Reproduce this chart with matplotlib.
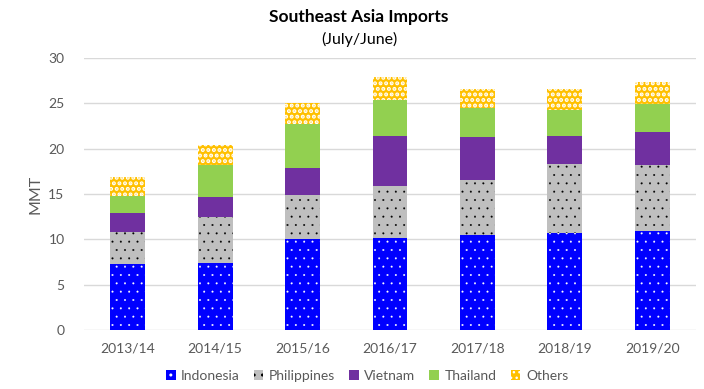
import matplotlib
matplotlib.use('Agg')
import matplotlib.pyplot as plt
import numpy as np

years = ["2013/14", "2014/15", "2015/16", "2016/17", "2017/18", "2018/19", "2019/20"]
indonesia   = [7.3, 7.4, 10.0, 10.1, 10.5, 10.7, 10.9]
philippines = [3.5, 5.1, 4.9, 5.8, 6.0, 7.6, 7.3]
vietnam     = [2.1, 2.2, 3.0, 5.5, 4.8, 3.1, 3.6]
thailand    = [1.9, 3.5, 4.8, 4.0, 3.2, 2.9, 3.1]
others      = [2.1, 2.2, 2.3, 2.5, 2.1, 2.3, 2.5]

# name, values, face, hatch, hatch colour, hatch line width
series = [
    ("Indonesia",   indonesia,   "#0000FF", "..",  "white",   0.2),
    ("Philippines", philippines, "#BFBFBF", "..",  "black",   0.2),
    ("Vietnam",     vietnam,     "#7030A0", "",    "#7030A0", 0.6),
    ("Thailand",    thailand,    "#92D050", "",    "#92D050", 0.6),
    ("Others",      others,      "#FFC000", "...", "white",   2.0),
]

plt.rcParams['font.family'] = ['Lato', 'DejaVu Sans']

fig = plt.figure(figsize=(7.04, 3.89), dpi=100)
ax = fig.add_axes([84/704, 1-330/389, 612/704, 272/389])

x = np.arange(len(years))
bottom = np.zeros(len(years))
for name, vals, color, hatch, hcol, hlw in series:
    with plt.rc_context({'hatch.linewidth': hlw}):
        ax.bar(x, vals, 0.4, bottom=bottom, color=color, hatch=hatch,
               edgecolor=hcol, linewidth=0, label=name, zorder=3)
    bottom += np.array(vals)

ax.set_ylim(0, 30)
ax.set_xlim(-0.5, len(years) - 0.5)
ax.set_yticks(range(0, 31, 5))
ax.set_xticks(x)
ax.set_xticklabels(years)
ax.grid(axis='y', color='#D9D9D9', linewidth=1, zorder=0)
for s in ax.spines.values():
    s.set_visible(False)
ax.tick_params(length=0, labelsize=10, labelcolor='#595959', pad=9)
ax.tick_params(axis='y', pad=14)
ax.set_ylabel("MMT", fontsize=11.5, color='#595959', labelpad=4)

fig.text(0.51, 1-17/389, "Southeast Asia Imports", ha='center', va='center',
         fontsize=12.5, fontweight='bold')
fig.text(0.51, 1-39/389, "(July/June)", ha='center', va='center', fontsize=11.5)

fig.legend(loc='center', bbox_to_anchor=(367/704, 1-376/389), ncol=5,
           frameon=False, fontsize=10, handlelength=0.7, handleheight=0.7,
           columnspacing=1.0, handletextpad=0.4, labelcolor='#595959')

plt.savefig("out.png", dpi=100)
plt.close()
